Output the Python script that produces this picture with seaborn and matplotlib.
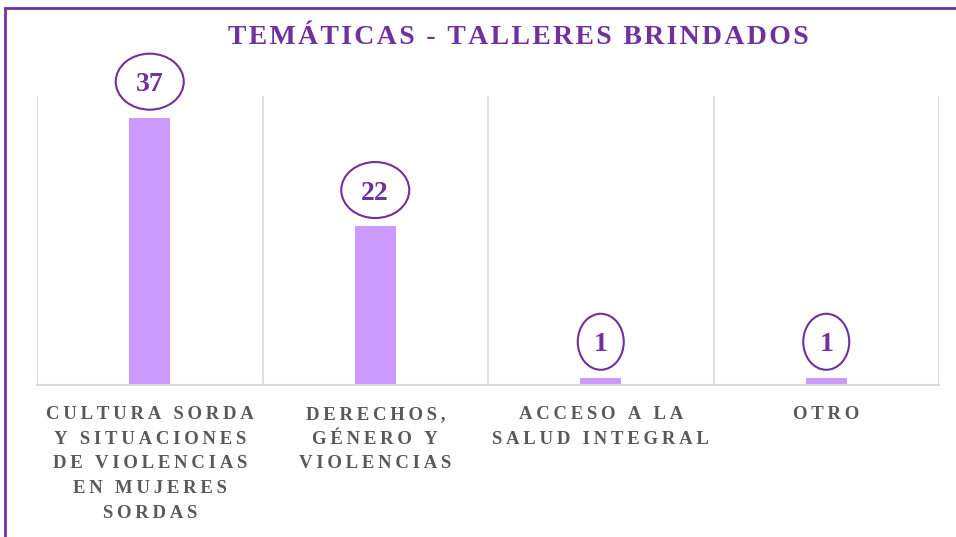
import matplotlib
matplotlib.use("Agg")
import matplotlib.pyplot as plt
import matplotlib.transforms as mtransforms
import seaborn as sns
import pandas as pd
from matplotlib.patches import Rectangle, Ellipse

categories = ["CULTURA SORDA\nY SITUACIONES\nDE VIOLENCIAS\nEN MUJERES\nSORDAS",
              "DERECHOS,\nGÉNERO Y\nVIOLENCIAS",
              "ACCESO A LA\nSALUD INTEGRAL",
              "OTRO"]
values = [37, 22, 1, 1]
title = "TEMÁTICAS - TALLERES BRINDADOS"

purple = "#7030A0"
bar_color = "#CC99FF"
label_gray = "#595959"
grid_gray = "#D9D9D9"


def spaced(s, gap):
    """Imitate letter spacing by inserting narrow spaces between characters."""
    return "\n".join(gap.join(line) for line in s.split("\n"))


sns.set_theme(style="white")
plt.rcParams['font.family'] = ['Liberation Serif', 'DejaVu Serif']

df = pd.DataFrame({"cat": categories, "val": values})

fig = plt.figure(figsize=(9.56, 5.37), dpi=100)
ax = fig.add_axes([37/956, 1 - 385/537, (939-37)/956, (385-96)/537])

sns.barplot(data=df, x="cat", y="val", color=bar_color, width=0.18,
            saturation=1, ax=ax, edgecolor="none")

ax.set_ylim(0, 40)
ax.set_xlim(-0.5, len(categories) - 0.5)
ax.set_yticks([])
ax.set_xlabel("")
ax.set_ylabel("")
for s in ["top", "left", "right"]:
    ax.spines[s].set_visible(False)
ax.spines["bottom"].set_color(grid_gray)
ax.spines["bottom"].set_linewidth(1.5)

for i in range(len(categories) + 1):
    ax.axvline(i - 0.5, color=grid_gray, lw=1.2, zorder=0)

ax.set_xticks(range(len(categories)))
ax.set_xticklabels([spaced(c, "\u2009") for c in categories], color=label_gray,
                   fontsize=13.5, fontweight="bold", linespacing=1.6, va="top")
ax.tick_params(axis="x", length=0, pad=15)

# value labels in ellipse callouts, anchored at the bar tops (offsets in inches)
offset_in = 0.36
for i, v in enumerate(values):
    anchor = mtransforms.ScaledTranslation(i, v, ax.transData)
    trans = fig.dpi_scale_trans + anchor
    w = 0.24 + 0.22 * len(str(v))
    ax.add_patch(Ellipse((0, offset_in), w, 0.56, transform=trans,
                         fc="white", ec=purple, lw=1.5, zorder=5, clip_on=False))
    ax.text(0, offset_in, str(v), transform=trans, ha="center",
            va="center_baseline", fontsize=20, fontweight="bold", color=purple,
            zorder=6, clip_on=False)

fig.text(518/956, 1 - 38/537, spaced(title, "\u200a"), ha="center", va="center",
         color=purple, fontsize=20, fontweight="bold")

fig.patches.append(Rectangle((5/956, -0.05), 1.2, 1 - 8/537 + 0.05,
                             transform=fig.transFigure, fill=False,
                             ec=purple, lw=2, zorder=10))

fig.savefig("out.png", dpi=100)
